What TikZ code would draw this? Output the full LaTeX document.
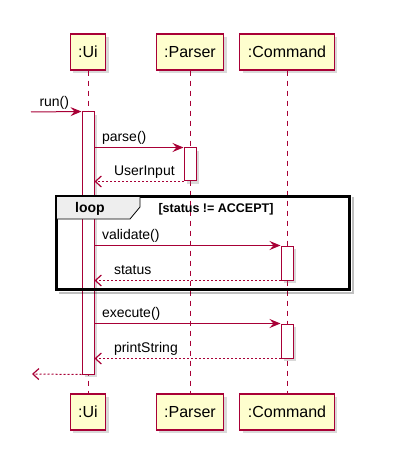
\documentclass[tikz,border=0pt]{standalone}
\usepackage{fontspec}
\setmainfont{Liberation Sans}
\usepackage{tikz}
\usetikzlibrary{arrows.meta}
\usetikzlibrary{shadows}
\usetikzlibrary{positioning}

\definecolor{umlred}{HTML}{A80036}
\definecolor{umlfill}{HTML}{FEFECE}
\definecolor{tabgray}{HTML}{EEEEEE}

\tikzset{
    shade/.style={drop shadow={opacity=0.3, shadow xshift=3pt, shadow yshift=-3pt}},
    party/.style={draw=umlred, fill=umlfill, line width=1.2pt, minimum height=36pt,
        inner xsep=8pt, font=\fontsize{16}{18}\selectfont, shade},
    act/.style={draw=umlred, fill=white, line width=1pt, minimum width=12pt, inner sep=0pt, shade},
    lifeline/.style={draw=umlred, line width=1pt, dash pattern=on 5pt off 5pt},
    call/.style={draw=umlred, line width=1pt, -{Stealth[length=11pt, width=9pt, inset=4pt]}},
    ret/.style={draw=umlred, line width=1pt, dash pattern=on 2pt off 2pt,
        -{Straight Barb[length=6pt, width=11pt, line width=1.2pt]}},
    msg/.style={font=\fontsize{14}{16}\selectfont, inner sep=2pt},
    loopbox/.style={draw=black, line width=2pt, inner sep=0pt},
}

\begin{document}
\begin{tikzpicture}[x=1pt, y=-1pt]
    \useasboundingbox (0, 0) rectangle (415, 454);
    % participants
    \node[party] (uiT) at (88, 52) {:Ui};
    \node[party] (parserT) at (190, 52) {:Parser};
    \node[party] (cmdT) at (287, 52) {:Command};
    \node[party] (uiB) at (88, 412) {:Ui};
    \node[party] (parserB) at (190, 412) {:Parser};
    \node[party] (cmdB) at (287, 412) {:Command};
    \draw[lifeline] (uiT) -- (uiB);
    \draw[lifeline] (parserT) -- (parserB);
    \draw[lifeline] (cmdT) -- (cmdB);

    % activations
    \node[act, minimum height=262pt] (uiAct) at (88, 243) {};
    \node[act, minimum height=33pt] (parserAct) at (190, 164.5) {};
    \node[act, minimum height=34pt] (cmdActA) at (287, 263) {};
    \node[act, minimum height=34pt] (cmdActB) at (287, 341) {};

    % loop frame, its shadow only on the outline
    \node[loopbox, minimum width=292pt, minimum height=92pt] (loopF) at (203, 243) {};
    \draw[black, opacity=0.25, line width=2.5pt] ([shift={(3, 1)}]loopF.north east)
        -- ([shift={(3, 3)}]loopF.south east) -- ([shift={(3, 3)}]loopF.south west);
    \draw[draw=black, fill=tabgray, line width=0.8pt] (loopF.north west) -- ++(84, 0) -- ++(0, 11)
        -- ++(-10, 12) -- ++(-74, 0) -- cycle;
    \draw[loopbox] (loopF.north west) rectangle (loopF.south east);
    \node[font=\bfseries\fontsize{14}{16}\selectfont] (loopTxt) at (90, 209) {loop};
    \node[font=\bfseries\fontsize{12.5}{14}\selectfont] (condTxt) at (216, 209) {[status != ACCEPT]};

    % messages
    \coordinate (runIn) at (31, 112);
    \coordinate (runOut) at (32, 374);
    \draw[call] (runIn) -- (uiAct.north west)
        node[msg, pos=0, anchor=base west, xshift=6pt, yshift=5pt] (runTxt) {run()};
    \draw[call] (uiAct.east |- parserAct.north) -- (parserAct.north west)
        node[msg, pos=0, anchor=base west, xshift=5pt, yshift=6pt] (parseTxt) {parse()};
    \draw[ret] (parserAct.south west) -- (uiAct.east |- parserAct.south)
        node[msg, pos=1, anchor=base west, xshift=17pt, yshift=6pt] (inputTxt) {UserInput};
    \draw[call] (uiAct.east |- cmdActA.north) -- (cmdActA.north west)
        node[msg, pos=0, anchor=base west, xshift=5pt, yshift=6pt] (validTxt) {validate()};
    \draw[ret] (cmdActA.south west) -- (uiAct.east |- cmdActA.south)
        node[msg, pos=1, anchor=base west, xshift=17pt, yshift=6pt] (statusTxt) {status};
    \draw[call] (uiAct.east |- cmdActB.north) -- (cmdActB.north west)
        node[msg, pos=0, anchor=base west, xshift=5pt, yshift=6pt] (execTxt) {execute()};
    \draw[ret] (cmdActB.south west) -- (uiAct.east |- cmdActB.south)
        node[msg, pos=1, anchor=base west, xshift=17pt, yshift=6pt] (printTxt) {printString};
    \draw[ret] (uiAct.south west) -- (runOut);
\end{tikzpicture}
\end{document}
